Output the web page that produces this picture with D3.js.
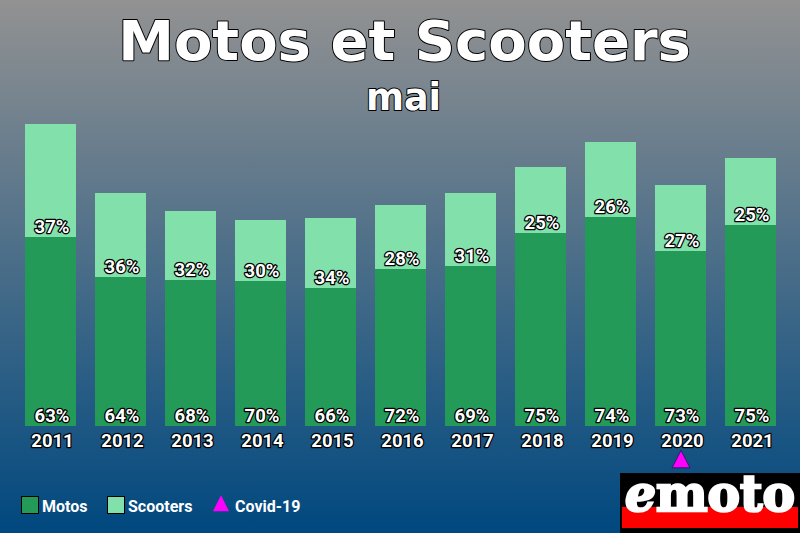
<!DOCTYPE html>
<html>
<head>
	<meta charset="utf-8">
	<title>Motos et Scooters</title>
	<script src="https://cdn.jsdelivr.net/npm/d3@7"></script>
	<style>
		html, body { margin: 0; padding: 0; overflow: hidden; }
		svg { display: block; }
		.outlined { paint-order: stroke; stroke-linejoin: round; fill: #fff; stroke: #000; }
	</style>
</head>
<body>
	<div id="chart"></div>
	<script>
		const years = ["2011", "2012", "2013", "2014", "2015", "2016", "2017", "2018", "2019", "2020", "2021"];
		const motos = [189, 149, 146, 145, 138, 157, 160, 193, 209, 175, 201];
		const scooters = [113, 84, 69, 61, 70, 64, 73, 66, 75, 66, 67];
		const motosPct = [63, 64, 68, 70, 66, 72, 69, 75, 74, 73, 75];
		const scootersPct = [37, 36, 32, 30, 34, 28, 31, 25, 26, 27, 25];
		const covidYears = ["2020"];
		const legendItems = ["Motos", "Scooters", "Covid-19"];

		const width = 800;
		const height = 533;
		const colorMotos = "#249a59";
		const colorScooters = "#82e0aa";
		const covidColor = "#ff00ff";
		const roboto = "Roboto, sans-serif";

		const svg = d3.select("#chart").append("svg")
			.attr("width", width)
			.attr("height", height)
			.attr("viewBox", [0, 0, width, height]);

		const grad = svg.append("defs").append("linearGradient")
			.attr("id", "bg").attr("x1", 0).attr("x2", 0).attr("y1", 0).attr("y2", 1);
		grad.append("stop").attr("offset", "0%").attr("stop-color", "#929292");
		grad.append("stop").attr("offset", "100%").attr("stop-color", "#00487f");

		svg.append("rect").attr("width", width).attr("height", height).attr("fill", "url(#bg)");

		// titles
		svg.append("text").attr("class", "outlined")
			.attr("x", 404.5).attr("y", 60)
			.attr("text-anchor", "middle")
			.style("font", "bold 56px 'DejaVu Sans'")
			.attr("stroke-width", 2)
			.text("Motos et Scooters");
		svg.append("text").attr("class", "outlined")
			.attr("x", 403.5).attr("y", 110)
			.attr("text-anchor", "middle")
			.style("font", "bold 36.5px 'DejaVu Sans'")
			.attr("stroke-width", 2)
			.text("mai");

		// scales
		const x = d3.scaleBand(years, [25, 776]).paddingInner(19 / 70).paddingOuter(0);
		const y = d3.scaleLinear([0, 302], [426, 124]);

		const rows = years.map((d, i) => ({ year: d, motos: motos[i], scooters: scooters[i], mp: motosPct[i], sp: scootersPct[i] }));

		svg.append("g").selectAll("rect").data(rows).join("rect")
			.attr("x", d => x(d.year))
			.attr("width", x.bandwidth())
			.attr("y", d => y(d.motos + d.scooters))
			.attr("height", d => y(d.motos) - y(d.motos + d.scooters))
			.attr("fill", colorScooters);

		svg.append("g").selectAll("rect").data(rows).join("rect")
			.attr("x", d => x(d.year))
			.attr("width", x.bandwidth())
			.attr("y", d => y(d.motos))
			.attr("height", d => y(0) - y(d.motos))
			.attr("fill", colorMotos);

		const labelFont = `bold 18.5px ${roboto}`;
		const cx = d => x(d.year) + x.bandwidth() / 2 + 1.5;

		svg.append("g").selectAll("text").data(rows).join("text")
			.attr("class", "outlined")
			.attr("x", cx).attr("y", 421.5)
			.attr("text-anchor", "middle")
			.style("font", labelFont)
			.attr("stroke-width", 2.5)
			.text(d => d.mp + "%");

		svg.append("g").selectAll("text").data(rows).join("text")
			.attr("class", "outlined")
			.attr("x", cx).attr("y", d => y(d.motos) - 4.5)
			.attr("text-anchor", "middle")
			.style("font", labelFont)
			.attr("stroke-width", 2.5)
			.text(d => d.sp + "%");

		// x axis
		const axis = svg.append("g")
			.attr("transform", "translate(2,426)")
			.call(d3.axisBottom(x).tickSize(0).tickPadding(8));
		axis.select(".domain").remove();
		axis.selectAll("text")
			.attr("class", "outlined")
			.style("font", labelFont)
			.attr("stroke-width", 2.5);

		// covid marker
		const tri = d3.symbol().type(d3.symbolTriangle).size(140);
		svg.append("g").selectAll("path").data(covidYears).join("path")
			.attr("d", tri)
			.attr("transform", d => `translate(${x(d) + x.bandwidth() / 2 + 0.5},${462}) scale(1,1.12)`)
			.attr("fill", covidColor)
			.attr("stroke", "#1a1a5a")
			.attr("stroke-width", 0.8);

		// legend
		const legendX = d3.scaleOrdinal(legendItems, [21.5, 107.5, 213]);
		const legend = svg.append("g").selectAll("g").data(legendItems).join("g")
			.attr("transform", d => `translate(${legendX(d)},496.5)`);
		legend.filter(d => d !== "Covid-19").append("rect")
			.attr("width", 17).attr("height", 17)
			.attr("fill", d => d === "Motos" ? colorMotos : colorScooters)
			.attr("stroke", "#000").attr("stroke-width", 1);
		legend.filter(d => d === "Covid-19").append("path")
			.attr("d", d3.symbol().type(d3.symbolTriangle).size(112))
			.attr("transform", "translate(8,9.5) scale(1,1.15)")
			.attr("fill", covidColor);
		legend.append("text")
			.attr("x", d => d === "Covid-19" ? 22 : 20.5).attr("y", 15)
			.attr("fill", "#fff")
			.style("font", `bold 16px ${roboto}`)
			.text(d => d);

		// logo
		const logo = svg.append("g").attr("transform", "translate(620,473)");
		logo.append("rect").attr("width", 180).attr("height", 60).attr("fill", "#000");
		logo.append("rect").attr("x", 2).attr("y", 34).attr("width", 176).attr("height", 21).attr("fill", "#ff0000");
		const logoText = logo.append("text")
			.attr("x", 90).attr("y", 38)
			.attr("text-anchor", "middle")
			.attr("fill", "#fff")
			.attr("stroke", "#fff").attr("stroke-width", 2.5)
			.attr("textLength", 170).attr("lengthAdjust", "spacingAndGlyphs")
			.style("font", "bold 50px 'DejaVu Serif'");
		logoText.append("tspan").style("font-style", "italic").text("e");
		logoText.append("tspan").text("moto");
	</script>
</body>
</html>
